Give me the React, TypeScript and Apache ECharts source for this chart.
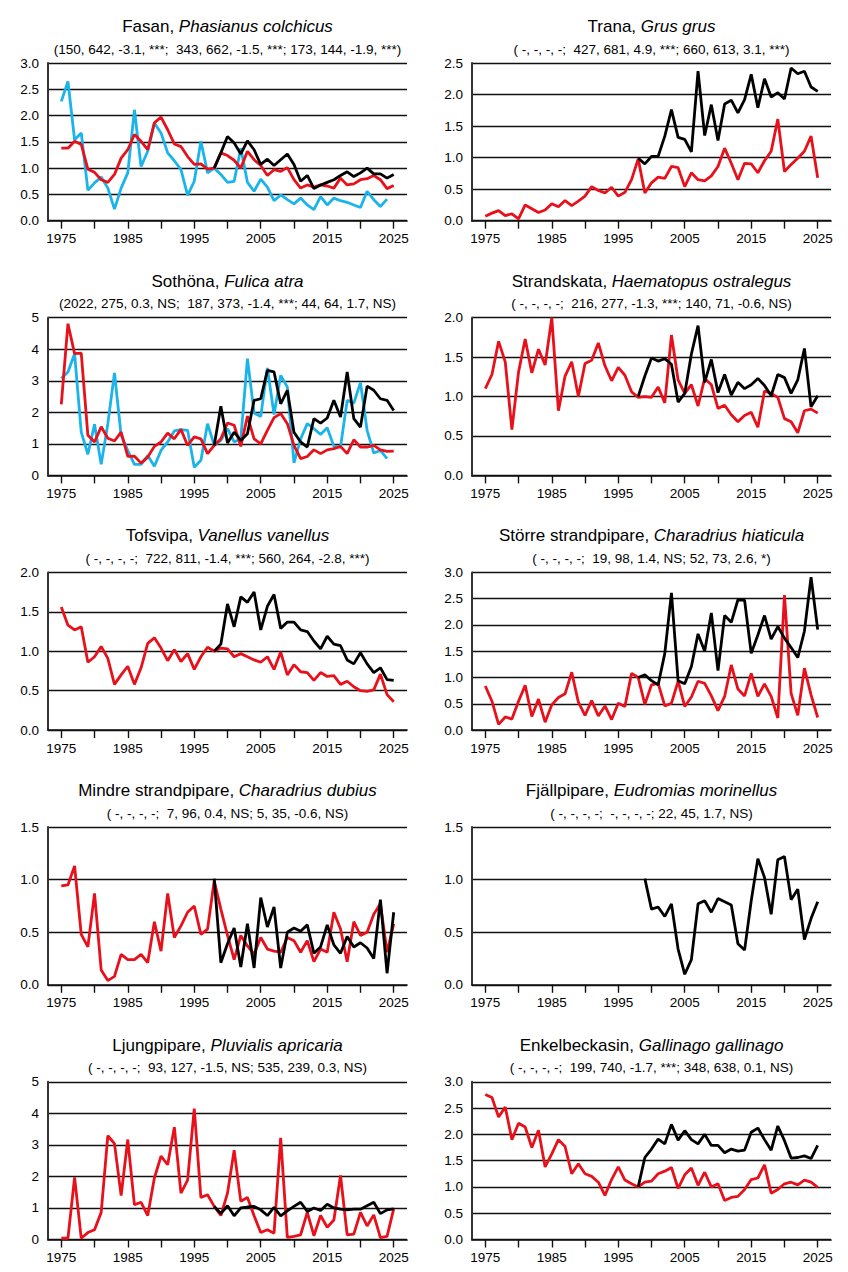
import React, { useEffect, useRef } from "react";
import * as echarts from "echarts";

const FONT = "'Liberation Sans', Arial, Helvetica, sans-serif";
const RED = "#e8101a";
const BLUE = "#1ab4ea";
const BLACK = "#000000";

const tickYears = [1975, 1980, 1985, 1990, 1995, 2000, 2005, 2010, 2015, 2020, 2025];
const labelYears = [1975, 1985, 1995, 2005, 2015, 2025];

// ---- Fasan ----
const fasanBlue = [2.27, 2.65, 1.54, 1.67, 0.58, 0.72, 0.83, 0.62, 0.22, 0.62, 0.91, 2.11, 1.03, 1.32, 1.86, 1.67, 1.29, 1.14, 0.97, 0.48, 0.75, 1.51, 0.91, 1.0, 0.88, 0.73, 0.75, 1.38, 0.73, 0.56, 0.79, 0.64, 0.38, 0.49, 0.4, 0.32, 0.43, 0.3, 0.21, 0.46, 0.3, 0.43, 0.38, 0.35, 0.3, 0.25, 0.56, 0.4, 0.27, 0.41];
const fasanRed = [1.38, 1.38, 1.51, 1.45, 0.98, 0.92, 0.78, 0.73, 0.88, 1.19, 1.35, 1.64, 1.51, 1.35, 1.86, 1.97, 1.73, 1.46, 1.41, 1.22, 1.07, 1.08, 0.98, 1.0, 1.29, 1.24, 1.15, 1.0, 1.32, 1.16, 1.05, 0.86, 0.97, 0.94, 1.01, 0.78, 0.62, 0.68, 0.64, 0.68, 0.66, 0.62, 0.81, 0.68, 0.7, 0.78, 0.8, 0.86, 0.78, 0.61, 0.67];
const fasanBlack = [1.0, 1.29, 1.6, 1.48, 1.27, 1.52, 1.35, 1.07, 1.17, 1.05, 1.16, 1.27, 1.07, 0.75, 0.86, 0.61, 0.68, 0.73, 0.78, 0.86, 0.93, 0.84, 0.91, 1.0, 0.89, 0.89, 0.81, 0.88];

// ---- Trana ----
const tranaRed = [0.07, 0.12, 0.16, 0.08, 0.11, 0.03, 0.25, 0.19, 0.13, 0.17, 0.27, 0.22, 0.32, 0.24, 0.31, 0.39, 0.54, 0.48, 0.44, 0.53, 0.39, 0.45, 0.65, 0.98, 0.44, 0.6, 0.69, 0.67, 0.86, 0.84, 0.54, 0.76, 0.65, 0.63, 0.71, 0.86, 1.15, 0.91, 0.65, 0.91, 0.9, 0.76, 0.95, 1.1, 1.61, 0.78, 0.89, 0.99, 1.1, 1.34, 0.68];
const tranaBlack = [0.99, 0.9, 1.02, 1.02, 1.34, 1.76, 1.32, 1.29, 1.09, 2.37, 1.35, 1.84, 1.27, 1.85, 1.91, 1.71, 1.92, 2.32, 1.79, 2.25, 1.96, 2.03, 1.93, 2.42, 2.33, 2.37, 2.12, 2.05];

// ---- Sothöna ----
const sothonaBlue = [3.07, 3.28, 3.86, 1.37, 0.67, 1.62, 0.35, 1.64, 3.25, 1.27, 0.79, 0.35, 0.35, 0.63, 0.29, 0.79, 1.06, 1.41, 1.45, 1.43, 0.26, 0.48, 1.64, 0.95, 1.11, 1.48, 1.06, 1.16, 3.7, 1.98, 1.87, 3.41, 1.93, 3.17, 2.8, 0.4, 1.16, 1.64, 1.48, 1.3, 1.51, 0.92, 0.9, 2.38, 2.29, 2.94, 1.43, 0.71, 0.79, 0.53];
const sothonaRed = [2.25, 4.81, 3.86, 3.88, 1.27, 1.06, 1.54, 1.18, 1.09, 1.37, 0.6, 0.61, 0.39, 0.58, 0.92, 1.06, 1.34, 1.16, 1.46, 0.95, 1.22, 1.16, 0.69, 0.95, 1.16, 1.66, 1.59, 0.92, 1.88, 1.16, 1.0, 1.43, 1.83, 1.96, 1.64, 0.95, 0.53, 0.6, 0.81, 0.69, 0.81, 0.85, 0.92, 0.69, 1.13, 0.9, 0.9, 0.95, 0.81, 0.76, 0.77];
const sothonaBlack = [0.95, 2.19, 1.03, 1.37, 1.11, 1.32, 2.38, 2.43, 3.33, 3.28, 2.27, 2.7, 1.37, 1.06, 0.9, 1.8, 1.66, 1.82, 2.38, 1.85, 3.28, 1.8, 1.53, 2.83, 2.7, 2.43, 2.38, 2.06];

// ---- Strandskata ----
const strandskataRed = [1.1, 1.28, 1.7, 1.44, 0.58, 1.31, 1.73, 1.3, 1.6, 1.4, 2.0, 0.82, 1.26, 1.44, 1.0, 1.42, 1.46, 1.68, 1.39, 1.2, 1.37, 1.27, 1.06, 0.99, 1.0, 0.99, 1.12, 0.92, 1.78, 1.21, 1.04, 1.15, 0.88, 1.23, 1.15, 0.85, 0.89, 0.77, 0.68, 0.76, 0.8, 0.61, 1.07, 1.04, 0.99, 0.72, 0.68, 0.54, 0.82, 0.84, 0.79];
const strandskataBlack = [1.0, 1.26, 1.49, 1.45, 1.48, 1.41, 0.93, 1.04, 1.54, 1.9, 1.18, 1.47, 1.05, 1.28, 1.02, 1.18, 1.1, 1.15, 1.23, 1.14, 1.01, 1.28, 1.24, 1.04, 1.21, 1.61, 0.87, 1.01];

// ---- Tofsvipa ----
const tofsvipaRed = [1.56, 1.33, 1.27, 1.31, 0.86, 0.93, 1.06, 0.91, 0.58, 0.7, 0.81, 0.58, 0.79, 1.1, 1.17, 1.04, 0.88, 1.02, 0.87, 0.97, 0.77, 0.93, 1.05, 1.0, 1.04, 1.03, 0.93, 0.97, 0.93, 0.89, 0.86, 0.93, 0.77, 0.99, 0.7, 0.83, 0.74, 0.73, 0.63, 0.73, 0.68, 0.69, 0.58, 0.62, 0.55, 0.5, 0.49, 0.51, 0.71, 0.45, 0.36];
const tofsvipaBlack = [1.0, 1.09, 1.6, 1.31, 1.69, 1.62, 1.75, 1.27, 1.57, 1.72, 1.29, 1.37, 1.37, 1.27, 1.25, 1.13, 1.03, 1.19, 1.09, 1.07, 0.89, 0.84, 0.98, 0.84, 0.73, 0.79, 0.64, 0.63];

// ---- Större strandpipare ----
const storreRed = [0.84, 0.55, 0.11, 0.25, 0.21, 0.55, 0.85, 0.26, 0.59, 0.15, 0.48, 0.62, 0.69, 1.1, 0.53, 0.28, 0.56, 0.27, 0.46, 0.2, 0.51, 0.45, 1.08, 1.0, 0.49, 0.86, 0.89, 0.46, 0.51, 0.93, 0.45, 0.63, 0.93, 0.89, 0.65, 0.37, 0.64, 1.24, 0.78, 0.65, 1.08, 0.64, 0.88, 0.64, 0.23, 2.57, 0.7, 0.28, 1.18, 0.67, 0.24];
const storreBlack = [1.0, 1.05, 0.94, 0.86, 1.46, 2.61, 0.94, 0.88, 1.21, 1.83, 1.5, 2.23, 1.13, 2.18, 2.05, 2.48, 2.47, 1.46, 1.81, 2.18, 1.73, 1.97, 1.75, 1.57, 1.38, 1.88, 2.91, 1.91];

// ---- Mindre strandpipare ----
const mindreRed = [0.94, 0.95, 1.13, 0.48, 0.36, 0.87, 0.14, 0.04, 0.08, 0.29, 0.24, 0.24, 0.29, 0.21, 0.6, 0.32, 0.87, 0.45, 0.56, 0.69, 0.75, 0.48, 0.53, 0.99, 0.72, 0.47, 0.24, 0.47, 0.37, 0.29, 0.45, 0.34, 0.32, 0.31, 0.45, 0.42, 0.31, 0.42, 0.22, 0.34, 0.31, 0.69, 0.53, 0.22, 0.6, 0.47, 0.5, 0.67, 0.77, 0.31, 0.58];
const mindreBlack = [1.01, 0.21, 0.39, 0.54, 0.17, 0.58, 0.16, 0.83, 0.55, 0.74, 0.16, 0.5, 0.54, 0.51, 0.57, 0.3, 0.36, 0.57, 0.38, 0.3, 0.46, 0.36, 0.4, 0.35, 0.25, 0.81, 0.11, 0.69];

// ---- Fjällpipare ----
const fjallBlack = [1.01, 0.72, 0.74, 0.65, 0.77, 0.34, 0.1, 0.24, 0.77, 0.8, 0.69, 0.82, 0.79, 0.76, 0.39, 0.33, 0.8, 1.2, 1.02, 0.67, 1.19, 1.22, 0.81, 0.91, 0.43, 0.63, 0.79];

// ---- Ljungpipare ----
const ljungRed = [0.04, 0.04, 1.97, 0.04, 0.22, 0.31, 0.86, 3.29, 3.04, 1.39, 3.17, 1.1, 1.18, 0.76, 1.95, 2.64, 2.37, 3.56, 1.47, 1.88, 4.15, 1.33, 1.42, 1.05, 0.76, 1.47, 2.83, 1.21, 1.33, 0.75, 0.22, 0.31, 0.2, 3.22, 0.07, 0.1, 0.15, 0.86, 0.12, 0.76, 0.39, 0.62, 2.03, 0.15, 0.17, 0.86, 0.43, 0.78, 0.06, 0.1, 0.97];
const ljungBlack = [1.05, 0.82, 1.07, 0.75, 1.0, 1.03, 1.05, 0.94, 0.76, 1.02, 0.75, 0.91, 1.05, 1.18, 0.89, 1.0, 0.92, 1.12, 1.0, 0.96, 0.94, 0.96, 0.96, 1.07, 1.18, 0.82, 0.94, 0.97];

// ---- Enkelbeckasin ----
const enkelRed = [2.76, 2.7, 2.33, 2.52, 1.9, 2.21, 2.14, 1.75, 2.08, 1.38, 1.63, 1.9, 1.77, 1.25, 1.44, 1.25, 1.2, 1.09, 0.84, 1.14, 1.38, 1.13, 1.06, 1.0, 1.09, 1.11, 1.25, 1.3, 1.37, 0.97, 1.23, 1.36, 1.03, 1.28, 1.0, 1.06, 0.74, 0.8, 0.82, 0.95, 1.14, 1.17, 1.42, 0.88, 0.95, 1.06, 1.09, 1.04, 1.13, 1.09, 0.99];
const enkelBlack = [1.0, 1.56, 1.72, 1.91, 1.82, 2.19, 1.89, 2.07, 1.9, 1.82, 2.0, 1.79, 1.79, 1.65, 1.72, 1.68, 1.7, 2.04, 2.12, 1.9, 1.7, 2.16, 1.88, 1.55, 1.56, 1.59, 1.54, 1.79];

const names = [
  ["Fasan, ", "Phasianus colchicus"],
  ["Trana, ", "Grus grus"],
  ["Sothöna, ", "Fulica atra"],
  ["Strandskata, ", "Haematopus ostralegus"],
  ["Tofsvipa, ", "Vanellus vanellus"],
  ["Större strandpipare, ", "Charadrius hiaticula"],
  ["Mindre strandpipare, ", "Charadrius dubius"],
  ["Fjällpipare, ", "Eudromias morinellus"],
  ["Ljungpipare, ", "Pluvialis apricaria"],
  ["Enkelbeckasin, ", "Gallinago gallinago"],
];

const stats = [
  "(150, 642, -3.1, ***;  343, 662, -1.5, ***; 173, 144, -1.9, ***)",
  "( -, -, -, -;  427, 681, 4.9, ***; 660, 613, 3.1, ***)",
  "(2022, 275, 0.3, NS;  187, 373, -1.4, ***; 44, 64, 1.7, NS)",
  "( -, -, -, -;  216, 277, -1.3, ***; 140, 71, -0.6, NS)",
  "( -, -, -, -;  722, 811, -1.4, ***; 560, 264, -2.8, ***)",
  "( -, -, -, -;  19, 98, 1.4, NS; 52, 73, 2.6, *)",
  "( -, -, -, -;  7, 96, 0.4, NS; 5, 35, -0.6, NS)",
  "( -, -, -, -;  -, -, -, -; 22, 45, 1.7, NS)",
  "( -, -, -, -;  93, 127, -1.5, NS; 535, 239, 0.3, NS)",
  "( -, -, -, -;  199, 740, -1.7, ***; 348, 638, 0.1, NS)",
];

const yMaxes = [3, 2.5, 5, 2, 2, 3, 1.5, 1.5, 5, 3];

// series per panel: [values, startYear, colour]
const panelSeries: [number[], number, string][][] = [
  [[fasanBlue, 1975, BLUE], [fasanRed, 1975, RED], [fasanBlack, 1998, BLACK]],
  [[tranaRed, 1975, RED], [tranaBlack, 1998, BLACK]],
  [[sothonaBlue, 1975, BLUE], [sothonaRed, 1975, RED], [sothonaBlack, 1998, BLACK]],
  [[strandskataRed, 1975, RED], [strandskataBlack, 1998, BLACK]],
  [[tofsvipaRed, 1975, RED], [tofsvipaBlack, 1998, BLACK]],
  [[storreRed, 1975, RED], [storreBlack, 1998, BLACK]],
  [[mindreRed, 1975, RED], [mindreBlack, 1998, BLACK]],
  [[fjallBlack, 1999, BLACK]],
  [[ljungRed, 1975, RED], [ljungBlack, 1998, BLACK]],
  [[enkelRed, 1975, RED], [enkelBlack, 1998, BLACK]],
];

const COL_W = 424;
const ROW_H = 254.7;
const PLOT_LEFT = 48;
const PLOT_W = 359;
const PLOT_TOP = 63;
const PLOT_H = 157.7;

function buildOption() {
  const grid: any[] = [];
  const xAxis: any[] = [];
  const yAxis: any[] = [];
  const series: any[] = [];
  const graphic: any[] = [];

  names.forEach((nm, i) => {
    const row = Math.floor(i / 2);
    const col = i % 2;
    const left = col * COL_W + PLOT_LEFT;
    const top = PLOT_TOP + row * ROW_H;
    grid.push({ left, top, width: PLOT_W, height: PLOT_H, containLabel: false });
    const cx = left + PLOT_W / 2;

    graphic.push({
      type: "text",
      x: cx,
      y: top - 36.5,
      style: {
        text: `{n|${nm[0]}}{i|${nm[1]}}`,
        align: "center",
        verticalAlign: "middle",
        fill: "#000",
        rich: {
          n: { fontSize: 17, fontFamily: FONT, fill: "#000" },
          i: { fontSize: 17, fontFamily: FONT, fontStyle: "italic", fill: "#000" },
        },
      },
    });
    graphic.push({
      type: "text",
      x: cx,
      y: top - 14,
      style: {
        text: stats[i],
        align: "center",
        verticalAlign: "middle",
        fontSize: 13.5,
        fontFamily: FONT,
        fill: "#000",
      },
    });

    const yMax = yMaxes[i];
    const yInt = yMax === 5 ? 1 : 0.5;
    xAxis.push({
      type: "value",
      gridIndex: i,
      min: 1973,
      max: 2027,
      axisLine: { show: true, onZero: false, lineStyle: { color: "#111", width: 1.7 } },
      axisTick: {
        show: true,
        customValues: tickYears,
        length: 8,
        lineStyle: { color: "#111", width: 1.4 },
      },
      axisLabel: {
        show: true,
        customValues: labelYears,
        margin: 11,
        fontSize: 13.5,
        fontFamily: FONT,
        color: "#000",
        formatter: (v: number) => String(v),
      },
      splitLine: { show: false },
    });
    yAxis.push({
      type: "value",
      gridIndex: i,
      min: 0,
      max: yMax,
      interval: yInt,
      axisLine: { show: true, lineStyle: { color: "#333", width: 2 } },
      axisTick: { show: false },
      axisLabel: {
        margin: 9,
        fontSize: 13.5,
        fontFamily: FONT,
        color: "#000",
        formatter: (v: number) => (yInt === 1 ? String(Math.round(v)) : v.toFixed(1)),
      },
      splitLine: { show: true, lineStyle: { color: "#111", width: 1.4 } },
    });

    panelSeries[i].forEach(([vals, start, colour]) => {
      series.push({
        type: "line",
        xAxisIndex: i,
        yAxisIndex: i,
        data: vals.map((v, k) => [start + k, v]),
        showSymbol: false,
        symbol: "none",
        lineStyle: { color: colour, width: 2.8 },
        itemStyle: { color: colour },
        clip: false,
        z: colour === BLACK ? 4 : colour === RED ? 3 : 2,
      });
    });
  });

  return {
    animation: false,
    backgroundColor: "#ffffff",
    textStyle: { fontFamily: FONT },
    grid,
    xAxis,
    yAxis,
    series,
    graphic,
  };
}

export default function App() {
  const ref = useRef<HTMLDivElement>(null);
  useEffect(() => {
    document.body.style.margin = "0";
    if (!ref.current) return;
    const chart = echarts.init(ref.current, undefined, { renderer: "svg" });
    chart.setOption(buildOption() as any);
    return () => chart.dispose();
  }, []);
  return <div ref={ref} style={{ width: 848, height: 1272 }} />;
}
